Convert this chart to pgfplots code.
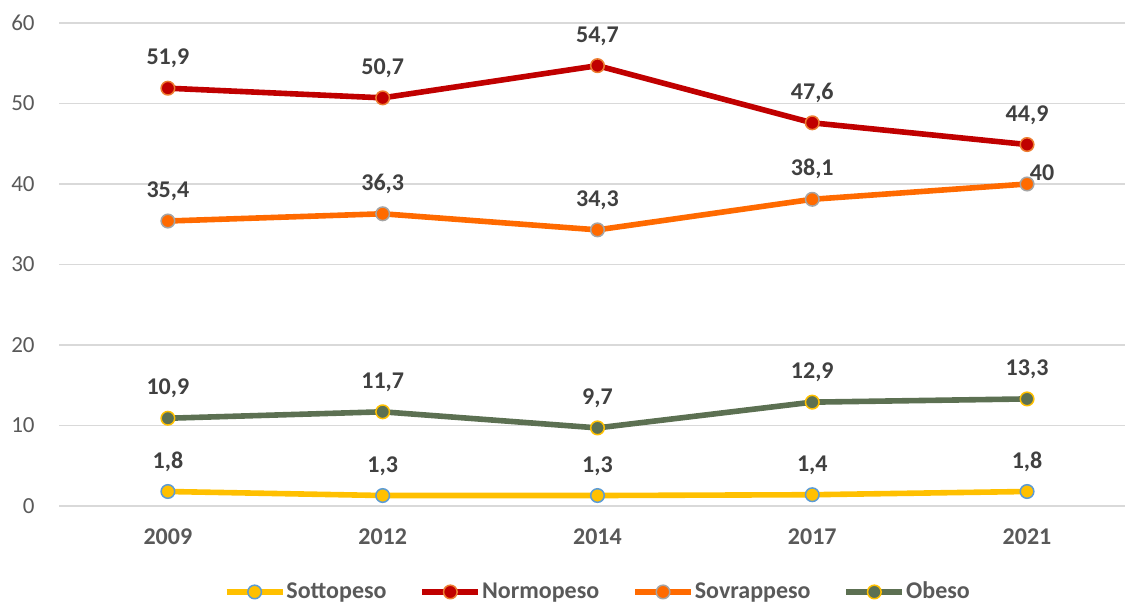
\documentclass[border=0pt]{standalone}
\usepackage{pgfplots}
\pgfplotsset{compat=1.18}
\usepackage{fontspec}
\setmainfont{Carlito}
\definecolor{cyel}{HTML}{FFC000}
\definecolor{cblue}{HTML}{5B9BD5}
\definecolor{cred}{HTML}{C00000}
\definecolor{corg}{HTML}{ED7D31}
\definecolor{csov}{HTML}{FF6A00}
\definecolor{cgray}{HTML}{A5A5A5}
\definecolor{cobe}{HTML}{5C7052}
\definecolor{gridc}{HTML}{D9D9D9}
\definecolor{tickc}{HTML}{595959}
\definecolor{labc}{HTML}{404040}
\begin{document}
\begin{tikzpicture}
\begin{axis}[name=ax, scale only axis, width=533pt, height=241.5pt,
  xmin=-0.507, xmax=4.456, ymin=0, ymax=60,
  xtick={0,1,2,3,4}, xticklabels={2009,2012,2014,2017,2021},
  ytick={0,10,...,60},
  axis line style={draw=none}, major tick length=0pt,
  ymajorgrids, grid style={color=gridc, line width=0.7pt},
  /pgf/number format/assume math mode=true,
  xticklabel style={font=\fontsize{12}{14}\selectfont\bfseries, text=tickc, anchor=base, inner sep=0pt, yshift=-19.3pt},
  yticklabel style={font=\fontsize{11.5}{14}\selectfont, text=tickc, anchor=base east, inner sep=0pt, xshift=-12pt, yshift=-3.6pt},
  clip=false,
  legend columns=4,
  legend style={at={(0.505,-0.178)}, anchor=center, draw=none, fill=none,
    font=\fontsize{12}{14}\selectfont\bfseries, text=tickc,
    /tikz/every even column/.append style={column sep=16pt},
    nodes={inner sep=0.5pt}},
  legend image code/.code={\draw[mark repeat=2, mark phase=2] plot coordinates {(0pt,0pt) (14pt,0pt) (28pt,0pt)};},
  nodes near coords, point meta=explicit symbolic,
  every node near coord/.append style={font=\fontsize{12}{14}\selectfont\bfseries, text=labc, anchor=base, yshift=11.7pt},
  line join=round,
]
\addplot[color=cyel, line width=2.8pt, mark=*, mark size=3.4pt, mark options={fill=cyel, draw=cblue, line width=0.75pt}]
  coordinates {(0,1.8)[1,8] (1,1.3)[1,3] (2,1.3)[1,3] (3,1.4)[1,4] (4,1.8)[1,8]};
\addlegendentry{Sottopeso}
\addplot[color=cred, line width=2.8pt, mark=*, mark size=3.4pt, mark options={fill=cred, draw=corg, line width=0.75pt}]
  coordinates {(0,51.9)[51,9] (1,50.7)[50,7] (2,54.7)[54,7] (3,47.6)[47,6] (4,44.9)[44,9]};
\addlegendentry{Normopeso}
\addplot[color=csov, line width=2.8pt, mark=*, mark size=3.4pt, mark options={fill=csov, draw=cgray, line width=0.75pt}]
  coordinates {(0,35.4)[35,4] (1,36.3)[36,3] (2,34.3)[34,3] (3,38.1)[38,1] (4,40)[\relax]};
\addlegendentry{Sovrappeso}
\addplot[color=cobe, line width=2.8pt, mark=*, mark size=3.4pt, mark options={fill=cobe, draw=cyel, line width=0.75pt}]
  coordinates {(0,10.9)[10,9] (1,11.7)[11,7] (2,9.7)[9,7] (3,12.9)[12,9] (4,13.3)[13,3]};
\addlegendentry{Obeso}
\addplot[draw=none, forget plot, every node near coord/.append style={xshift=7.5pt, yshift=-10.2pt}]
  coordinates {(4,40)[40]};
\end{axis}
\pgfresetboundingbox
\useasboundingbox ([xshift=-29.5pt,yshift=-48.5pt]ax.south west) rectangle ([yshift=11.5pt]ax.north east);
\end{tikzpicture}
\end{document}
